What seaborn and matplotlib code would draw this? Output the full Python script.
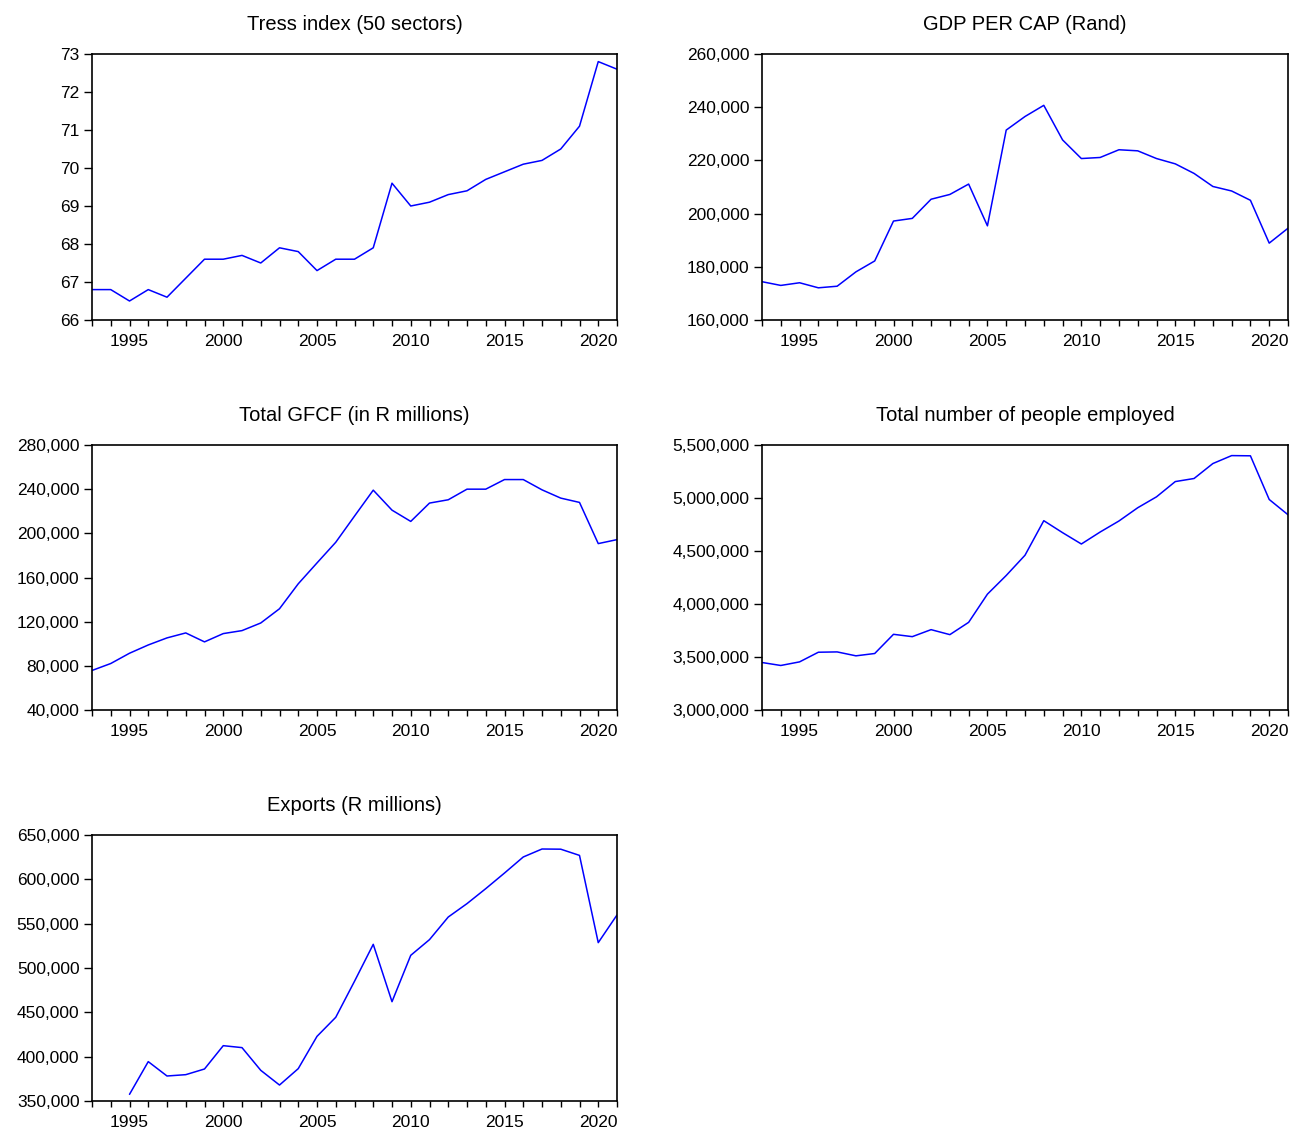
# Fem tidsserier i et 3x2 gitter (sidste felt tomt)

import pandas as pd
import matplotlib
matplotlib.use("Agg")
import matplotlib.pyplot as plt
import matplotlib.ticker as mticker
import seaborn as sns

years = list(range(1993, 2022))

tress_index = [66.8, 66.8, 66.5, 66.8, 66.6, 67.1, 67.6, 67.6, 67.7, 67.5,
               67.9, 67.8, 67.3, 67.6, 67.6, 67.9, 69.6, 69.0, 69.1, 69.3,
               69.4, 69.7, 69.9, 70.1, 70.2, 70.5, 71.1, 72.8, 72.6]

gdp_per_cap = [174400, 173000, 174000, 172100, 172700, 178100, 182200, 197200,
               198200, 205400, 207200, 211100, 195400, 231400, 236500, 240700,
               227700, 220700, 221100, 224000, 223600, 220700, 218700, 215100,
               210200, 208500, 205000, 188900, 194500]

gfcf = [75800, 82100, 91400, 98900, 105300, 109800, 101700, 109200, 111900,
        118800, 131700, 154300, 173200, 191900, 215600, 239100, 221000, 210800,
        227400, 230400, 240000, 240000, 248700, 248700, 239400, 231900, 228000,
        190700, 194300]

employed = [3448000, 3420000, 3454000, 3545000, 3548000, 3511000, 3533000,
            3714000, 3692000, 3758000, 3711000, 3827000, 4093000, 4269000,
            4460000, 4786000, 4673000, 4566000, 4679000, 4783000, 4908000,
            5011000, 5155000, 5184000, 5325000, 5400000, 5398000, 4986000,
            4842000]

# Eksport starter først i 1995
export_years = list(range(1995, 2022))
exports = [357500, 394400, 378200, 379700, 386100, 412400, 410200, 384600,
           368000, 386500, 422900, 444400, 485000, 526700, 462000, 514300,
           532000, 557500, 572600, 589500, 607100, 625200, 634200, 634000,
           627000, 528600, 559800]

titles = ["Tress index (50 sectors)", "GDP PER CAP (Rand)",
          "Total GFCF (in R millions)", "Total number of people employed",
          "Exports (R millions)"]

sns.set_style("white")
plt.rcParams["font.family"] = ["Liberation Sans", "DejaVu Sans"]
plt.rcParams["text.color"] = "black"
plt.rcParams["xtick.color"] = "black"
plt.rcParams["ytick.color"] = "black"

W, H = 1298, 1131
fig = plt.figure(figsize=(W / 100, H / 100), dpi=100)

# Akser i pixelkoordinater (venstre, top, højre, bund)
boxes = [(92, 54, 617, 320), (762, 54, 1288, 320),
         (92, 445, 617, 710), (762, 445, 1288, 710),
         (92, 835, 617, 1101)]

panels = [
    (years, tress_index, (66, 73), 1, False),
    (years, gdp_per_cap, (160000, 260000), 20000, True),
    (years, gfcf, (40000, 280000), 40000, True),
    (years, employed, (3000000, 5500000), 500000, True),
    (export_years, exports, (350000, 650000), 50000, True),
]

for (x0, y0, x1, y1), (xs, ys, ylim, ystep, comma), title in zip(boxes, panels, titles):
    ax = fig.add_axes([x0 / W, 1 - y1 / H, (x1 - x0) / W, (y1 - y0) / H])
    df = pd.DataFrame({"year": xs, "value": ys})
    sns.lineplot(data=df, x="year", y="value", ax=ax, color="#0000FF", linewidth=1.1)

    ax.set_xlim(1993, 2021)
    ax.set_ylim(*ylim)
    ax.yaxis.set_major_locator(mticker.MultipleLocator(ystep))
    if comma:
        ax.yaxis.set_major_formatter(mticker.FuncFormatter(lambda v, p: f"{int(v):,}"))
    ax.xaxis.set_major_locator(mticker.FixedLocator([1995, 2000, 2005, 2010, 2015, 2020]))
    ax.xaxis.set_minor_locator(mticker.MultipleLocator(1))

    ax.set_xlabel("")
    ax.set_ylabel("")
    ax.set_title(title, fontsize=14.5, pad=17, color="black")

    ax.tick_params(axis="y", which="major", direction="out", length=6, width=1,
                   labelsize=12.5, left=True, right=False, pad=3)
    ax.tick_params(axis="x", which="both", direction="out", length=4, width=1,
                   labelsize=12.5, bottom=True, top=False, pad=6)

    for spine in ax.spines.values():
        spine.set_visible(True)
        spine.set_linewidth(1.2)
        spine.set_edgecolor("black")

fig.savefig("out.png", dpi=100)
